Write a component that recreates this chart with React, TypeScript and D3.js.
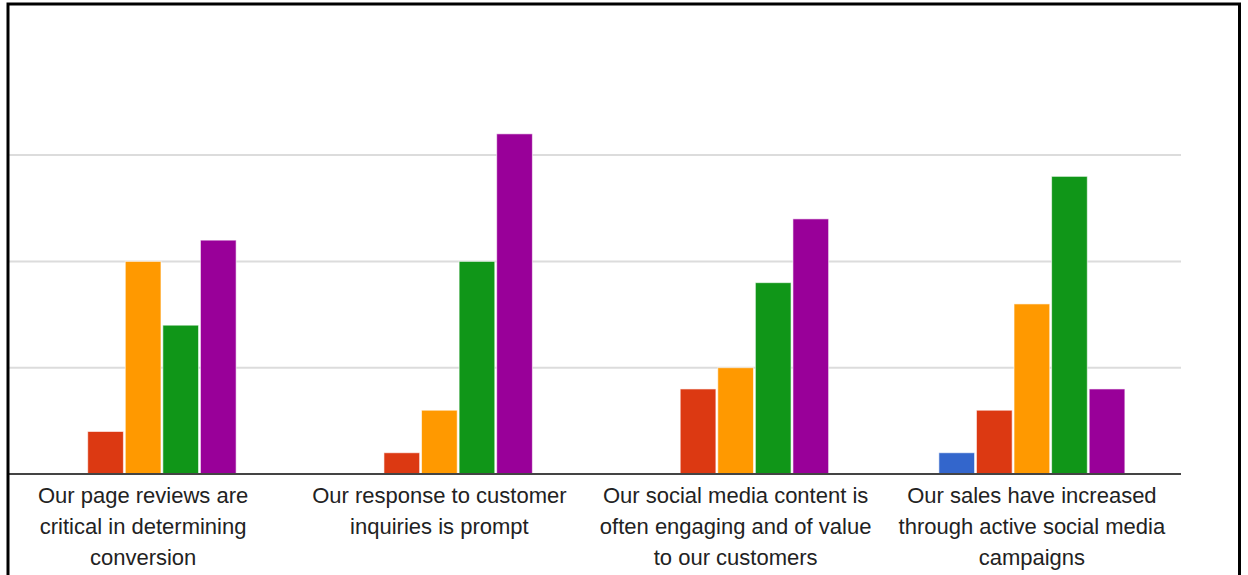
import React, { useEffect, useRef } from 'react'
import * as d3 from 'd3'

const categories = [
  'Our page reviews are critical in determining conversion',
  'Our response to customer inquiries is prompt',
  'Our social media content is often engaging and of value to our customers',
  'Our sales have increased through active social media campaigns',
]
// line breaks as shown under each group
const categoryLines = [
  ['Our page reviews are', 'critical in determining', 'conversion'],
  ['Our response to customer', 'inquiries is prompt'],
  ['Our social media content is', 'often engaging and of value', 'to our customers'],
  ['Our sales have increased', 'through active social media', 'campaigns'],
]
const series = ['Strongly disagree', 'Disagree', 'Neutral', 'Agree', 'Strongly agree']
const colors = ['#3366cc', '#dc3912', '#ff9900', '#109618', '#990099']
const values = [
  [0, 2, 10, 7, 11],
  [0, 1, 3, 10, 16],
  [0, 4, 5, 9, 12],
  [1, 3, 8, 14, 4],
]
const gridTicks = [5, 10, 15]

const W = 1248
const H = 575

const App = () => {
  const svgRef = useRef<SVGSVGElement>(null)

  useEffect(() => {
    const svg = d3.select(svgRef.current)
    svg.selectAll('*').remove()

    const base = 474
    const y = d3.scaleLinear().domain([0, 20]).range([base, base - 20 * 21.26])
    const x0 = d3.scaleBand<number>().domain(d3.range(categories.length)).range([-5, 1180])
    const groupW = 186
    const x1 = d3.scaleBand<number>().domain(d3.range(series.length)).range([0, groupW]).paddingInner(0.05)

    svg.append('rect').attr('width', W).attr('height', H).attr('fill', '#fff')

    svg.selectAll('line.grid')
      .data(gridTicks)
      .enter()
      .append('line')
      .attr('class', 'grid')
      .attr('x1', 9).attr('x2', 1181)
      .attr('y1', d => y(d)).attr('y2', d => y(d))
      .attr('stroke', '#dcdcdc')
      .attr('stroke-width', 2)

    const groups = svg.selectAll('g.group')
      .data(values)
      .enter()
      .append('g')
      .attr('transform', (d, i) => `translate(${x0(i)! + x0.bandwidth() / 2 - groupW / 2},0)`)

    groups.selectAll('rect')
      .data(d => d.map((v, j) => ({ v, j })))
      .enter()
      .append('rect')
      .filter(d => d.v > 0)
      .attr('x', d => x1(d.j)!)
      .attr('width', x1.bandwidth())
      .attr('y', d => y(d.v))
      .attr('height', d => base - y(d.v))
      .attr('fill', d => colors[d.j])
      .attr('stroke', '#fff')
      .attr('stroke-opacity', 0.6)
      .attr('stroke-width', 1)

    svg.append('line')
      .attr('x1', 9).attr('x2', 1181)
      .attr('y1', base).attr('y2', base)
      .attr('stroke', '#444')
      .attr('stroke-width', 2)

    const labels = svg.selectAll('text.cat')
      .data(categoryLines)
      .enter()
      .append('text')
      .attr('class', 'cat')
      .attr('text-anchor', 'middle')
      .attr('font-family', 'Liberation Sans, Arial, sans-serif')
      .attr('font-size', 22)
      .attr('fill', '#222')
      .attr('x', (d, i) => x0(i)! + x0.bandwidth() / 2)
      .attr('y', 503)

    labels.selectAll('tspan')
      .data(d => d)
      .enter()
      .append('tspan')
      .attr('x', function () { return (this.parentNode as SVGTextElement).getAttribute('x') })
      .attr('dy', (d, i) => (i === 0 ? 0 : 31))
      .text(d => d)

    svg.append('rect')
      .attr('x', 8).attr('y', 4)
      .attr('width', 1231.5).attr('height', 600)
      .attr('fill', 'none')
      .attr('stroke', '#000')
      .attr('stroke-width', 3)
  }, [])

  return (
    <div>
      <svg ref={svgRef} width={W} height={H} style={{ position: 'absolute', left: 0, top: 0 }}></svg>
    </div>
  )
}

export default App
